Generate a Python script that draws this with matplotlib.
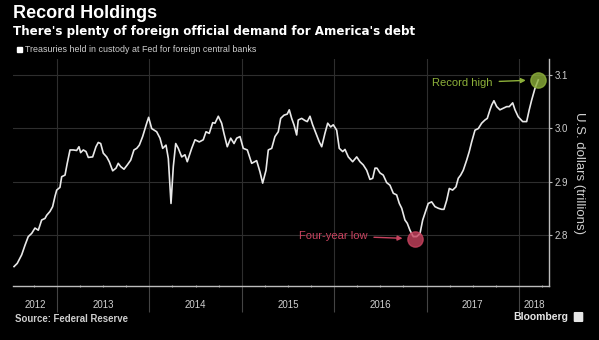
import matplotlib.pyplot as plt
from matplotlib.patches import Rectangle, FancyBboxPatch

plt.rcParams['font.family'] = ['Liberation Sans', 'DejaVu Sans']

# Treasuries held in custody at Fed for foreign central banks (US$ trillions)
# x in decimal years
t = [2012.535, 2012.570, 2012.618, 2012.654, 2012.689, 2012.726, 2012.762, 2012.798,
     2012.834, 2012.870, 2012.889, 2012.924, 2012.953, 2012.978, 2012.997, 2013.032,
     2013.051, 2013.087, 2013.111, 2013.141, 2013.176, 2013.213, 2013.238, 2013.256,
     2013.285, 2013.314, 2013.339, 2013.386, 2013.422, 2013.447, 2013.473, 2013.501,
     2013.538, 2013.566, 2013.603, 2013.639, 2013.663, 2013.689, 2013.725, 2013.761,
     2013.798, 2013.833, 2013.863, 2013.891, 2013.927, 2013.971, 2013.992, 2014.025,
     2014.079, 2014.115, 2014.144, 2014.180, 2014.205, 2014.234, 2014.259, 2014.285,
     2014.313, 2014.350, 2014.385, 2014.410, 2014.458, 2014.494, 2014.540, 2014.583,
     2014.613, 2014.648, 2014.685, 2014.710, 2014.746, 2014.782, 2014.807, 2014.843,
     2014.880, 2014.916, 2014.945, 2014.981, 2015.016, 2015.060, 2015.107, 2015.161,
     2015.197, 2015.226, 2015.262, 2015.287, 2015.324, 2015.359, 2015.395, 2015.421,
     2015.457, 2015.492, 2015.514, 2015.540, 2015.565, 2015.594, 2015.611, 2015.648,
     2015.684, 2015.709, 2015.738, 2015.767, 2015.803, 2015.839, 2015.865, 2015.900,
     2015.930, 2015.962, 2015.990, 2016.027, 2016.055, 2016.092, 2016.117, 2016.153,
     2016.200, 2016.244, 2016.279, 2016.315, 2016.352, 2016.387, 2016.417, 2016.442,
     2016.463, 2016.496, 2016.531, 2016.568, 2016.604, 2016.640, 2016.676, 2016.705,
     2016.731, 2016.766, 2016.791, 2016.820, 2016.856, 2016.893, 2016.929, 2016.958,
     2016.983, 2017.018, 2017.055, 2017.091, 2017.127, 2017.163, 2017.188, 2017.218,
     2017.246, 2017.282, 2017.318, 2017.343, 2017.369, 2017.397, 2017.434, 2017.462,
     2017.488, 2017.524, 2017.560, 2017.596, 2017.632, 2017.657, 2017.686, 2017.705,
     2017.729, 2017.759, 2017.794, 2017.830, 2017.867, 2017.895, 2017.932, 2017.957,
     2017.992, 2018.040, 2018.083, 2018.111, 2018.137, 2018.173, 2018.209]
holdings = [2.741, 2.747, 2.763, 2.781, 2.797, 2.803, 2.813, 2.809,
            2.828, 2.831, 2.837, 2.844, 2.853, 2.872, 2.884, 2.889,
            2.909, 2.912, 2.934, 2.959, 2.959, 2.958, 2.965, 2.954,
            2.959, 2.956, 2.945, 2.946, 2.965, 2.973, 2.971, 2.953,
            2.946, 2.937, 2.920, 2.925, 2.934, 2.928, 2.923, 2.931,
            2.940, 2.959, 2.962, 2.968, 2.984, 3.009, 3.020, 2.999,
            2.993, 2.981, 2.962, 2.968, 2.943, 2.859, 2.928, 2.971,
            2.962, 2.946, 2.950, 2.937, 2.962, 2.978, 2.974, 2.978,
            2.993, 2.990, 3.010, 3.009, 3.022, 3.009, 2.990, 2.965,
            2.981, 2.971, 2.981, 2.984, 2.962, 2.959, 2.934, 2.939,
            2.918, 2.897, 2.921, 2.959, 2.962, 2.984, 2.993, 3.018,
            3.024, 3.026, 3.034, 3.018, 3.006, 2.987, 3.015, 3.018,
            3.014, 3.012, 3.022, 3.006, 2.990, 2.974, 2.965, 2.990,
            3.009, 3.002, 3.006, 2.996, 2.962, 2.956, 2.960, 2.946,
            2.937, 2.946, 2.937, 2.931, 2.921, 2.904, 2.906, 2.925,
            2.925, 2.916, 2.912, 2.898, 2.893, 2.878, 2.875, 2.859,
            2.850, 2.828, 2.822, 2.809, 2.797, 2.797, 2.803, 2.828,
            2.841, 2.859, 2.862, 2.853, 2.850, 2.848, 2.848, 2.865,
            2.887, 2.884, 2.890, 2.906, 2.912, 2.921, 2.940, 2.956,
            2.974, 2.996, 2.999, 3.009, 3.015, 3.018, 3.034, 3.043,
            3.051, 3.040, 3.034, 3.037, 3.040, 3.040, 3.047, 3.034,
            3.021, 3.012, 3.012, 3.034, 3.052, 3.074, 3.090]

year_bounds = [2013, 2014, 2015, 2016, 2017, 2018]
year_labels = ['2012', '2013', '2014', '2015', '2016', '2017', '2018']
y_ticks = [2.8, 2.9, 3.0, 3.1]

low_pt = (2016.875, 2.793)
high_pt = (t[-1], holdings[-1])

BG = '#000000'
GRID = '#2e2e2e'
TXT = '#cfcfcf'
GREEN = '#8db03a'
RED = '#c8435f'

fig = plt.figure(figsize=(5.99, 3.4), dpi=100, facecolor=BG)
ax = fig.add_axes([13 / 599, 1 - 286 / 340, (549 - 13) / 599, (286 - 59) / 340])
ax.set_facecolor(BG)

xmin, xmax = 2012.524, 2018.325
ax.set_xlim(xmin, xmax)
ax.set_ylim(2.7047, 3.129)

for yv in y_ticks:
    ax.axhline(yv, color=GRID, lw=0.8, zorder=1)
for xb in year_bounds:
    ax.axvline(xb, color=GRID, lw=0.8, zorder=1)

ax.plot(t, holdings, color='#e8e8e8', lw=1.2, zorder=3)

# markers
ax.plot(*high_pt, 'o', ms=11, mfc=GREEN, mec=GREEN, alpha=0.8, zorder=4)
ax.plot(*low_pt, 'o', ms=11, mfc=RED, mec=RED, alpha=0.8, zorder=4)
ax.annotate('Record high', xy=high_pt, xytext=(-46, -3), textcoords='offset pixels',
            ha='right', va='center', color=GREEN, fontsize=8,
            arrowprops=dict(arrowstyle='-|>', color=GREEN, lw=1, mutation_scale=7,
                            shrinkA=3, shrinkB=9))
ax.annotate('Four-year low', xy=low_pt, xytext=(-48, 3), textcoords='offset pixels',
            ha='right', va='center', color=RED, fontsize=8,
            arrowprops=dict(arrowstyle='-|>', color=RED, lw=1, mutation_scale=7,
                            shrinkA=3, shrinkB=9))

# spines
for s in ['left', 'top']:
    ax.spines[s].set_visible(False)
for s in ['bottom', 'right']:
    ax.spines[s].set_color('#bdbdbd')
    ax.spines[s].set_linewidth(1)

ax.yaxis.tick_right()
ax.set_yticks(y_ticks)
ax.set_yticklabels(['2.8', '2.9', '3.0', '3.1'])
ax.tick_params(axis='y', colors='#bdbdbd', labelcolor=TXT, labelsize=7, length=2,
               width=0.8, pad=2)
ax.set_ylabel('U.S. dollars (trillions)', rotation=270, color=TXT, fontsize=9.5,
              labelpad=12)
ax.yaxis.set_label_position('right')

ax.set_xticks(year_bounds)
ax.set_xticklabels([])
ax.tick_params(axis='x', which='major', colors='#444444', length=19, width=0.8)
quarters = [q / 4 for q in range(int(xmin * 4) + 1, int(xmax * 4) + 1) if q % 4]
ax.set_xticks(quarters, minor=True)
ax.tick_params(axis='x', which='minor', colors='#9a9a9a', length=1.5, width=0.8,
               direction='inout')

# year labels centred in each year span
edges = [xmin] + year_bounds + [xmax]
for lab, a, b in zip(year_labels, edges[:-1], edges[1:]):
    ax.text((a + b) / 2, -19 / 227, lab, transform=ax.get_xaxis_transform(),
            ha='center', va='center', color=TXT, fontsize=7)

# titles
fig.text(13 / 599, 1 - 14 / 340, 'Record Holdings', color='white', fontsize=13,
         fontweight='bold', va='center')
fig.text(13 / 599, 1 - 31 / 340,
         "There's plenty of foreign official demand for America's debt",
         color='white', fontsize=8.6, fontweight='bold', va='center',
         family='DejaVu Sans')
fig.patches.append(Rectangle((17 / 599, 1 - 52 / 340), 5 / 599, 5 / 340,
                             transform=fig.transFigure, color='white'))
fig.text(25 / 599, 1 - 49.5 / 340,
         'Treasuries held in custody at Fed for foreign central banks',
         color=TXT, fontsize=6.4, va='center')

fig.text(15 / 599, 1 - 319 / 340, 'Source: Federal Reserve', color=TXT,
         fontsize=6.9, fontweight='bold', va='center')
fig.text(568 / 599, 1 - 317 / 340, 'Bloomberg', color='#e6e6e6', fontsize=7.5,
         fontweight='bold', va='center', ha='right')
fig.patches.append(FancyBboxPatch((575 / 599, 1 - 321 / 340), 7 / 599, 8 / 340,
                                  boxstyle='round,pad=0.001',
                                  transform=fig.transFigure, color='#e6e6e6'))

fig.savefig('out.png', dpi=100, facecolor=BG)
